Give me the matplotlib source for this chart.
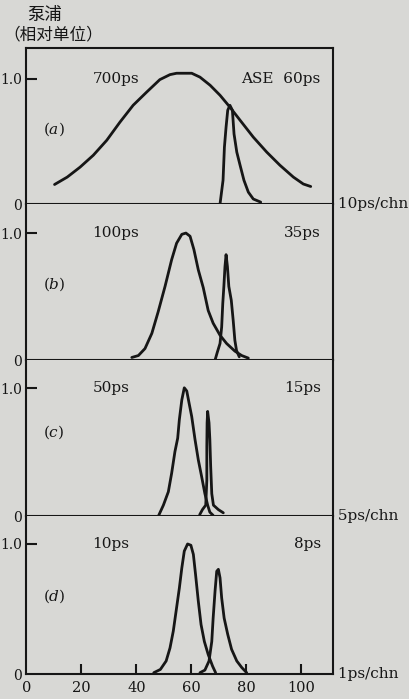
import matplotlib
matplotlib.use("Agg")
import matplotlib.pyplot as plt

plt.rcParams['mathtext.fontset'] = 'dejavuserif'

# ---------------- data (channel, relative pump intensity) ----------------
a_pump_x = [10.2, 14.8, 19.5, 24.3, 29.2, 34.0, 38.8, 43.7, 48.5, 52.2, 54.6, 60.1, 63.1, 66.8,
            70.4, 74.0, 77.7, 82.5, 87.4, 92.2, 97.1, 100.7, 103.4]
a_pump_y = [0.156, 0.215, 0.295, 0.39, 0.51, 0.655, 0.79, 0.895, 0.995, 1.035, 1.046, 1.046, 1.015, 0.95,
            0.87, 0.775, 0.67, 0.535, 0.415, 0.31, 0.215, 0.16, 0.14]
a_ase_x = [70.4, 71.5, 72.0, 72.6, 73.2, 74.0, 74.9, 75.5, 76.5, 77.7, 79.1, 80.7, 82.5, 85.2]
a_ase_y = [0.0, 0.19, 0.455, 0.615, 0.75, 0.79, 0.75, 0.56, 0.415, 0.31, 0.19, 0.095, 0.04, 0.015]

b_pump_x = [38.3, 40.7, 43.1, 45.6, 47.9, 50.4, 52.8, 54.6, 56.5, 58.0, 59.5, 60.9, 62.5, 64.3,
            66.1, 67.9, 70.4, 72.8, 75.8, 78.3, 80.7]
b_pump_y = [0.02, 0.035, 0.09, 0.21, 0.38, 0.58, 0.79, 0.92, 0.99, 1.0, 0.975, 0.87, 0.71, 0.57,
            0.39, 0.29, 0.195, 0.13, 0.07, 0.035, 0.015]
b_ase_x = [68.6, 69.4, 70.4, 71.0, 71.4, 71.8, 72.2, 72.6, 73.1, 73.6, 74.5, 75.2, 75.8, 76.4, 77.4]
b_ase_y = [0.0, 0.06, 0.13, 0.26, 0.445, 0.58, 0.735, 0.83, 0.735, 0.58, 0.47, 0.31, 0.155, 0.075, 0.025]

c_pump_x = [48.1, 49.8, 51.6, 52.8, 54.0, 55.0, 55.6, 56.5, 57.4, 58.3, 59.1, 60.1, 61.3, 62.5,
            63.7, 64.9, 65.9, 66.7, 67.9]
c_pump_y = [0.005, 0.085, 0.19, 0.335, 0.505, 0.61, 0.755, 0.91, 1.005, 0.98, 0.89, 0.78, 0.60, 0.44,
            0.31, 0.175, 0.085, 0.03, 0.005]
c_ase_x = [63.0, 64.0, 65.2, 65.6, 65.6, 65.7, 65.9, 66.4, 66.7, 67.0, 67.4, 68.0, 69.8, 71.6]
c_ase_y = [0.01, 0.05, 0.085, 0.28, 0.545, 0.73, 0.82, 0.73, 0.60, 0.39, 0.175, 0.085, 0.05, 0.025]

d_pump_x = [46.3, 48.7, 50.8, 52.2, 53.4, 54.6, 55.6, 56.5, 57.4, 58.6, 59.8, 60.7, 61.5, 62.5,
            63.5, 64.7, 66.1, 67.7, 68.8]
d_pump_y = [0.01, 0.035, 0.10, 0.20, 0.33, 0.51, 0.66, 0.815, 0.945, 1.0, 0.99, 0.92, 0.765, 0.56,
            0.38, 0.25, 0.15, 0.06, 0.01]
d_ase_x = [63.1, 64.9, 66.4, 67.4, 67.9, 68.6, 69.2, 69.8, 70.4, 71.0, 71.9, 73.2, 74.6, 76.5,
           78.3, 80.1]
d_ase_y = [0.01, 0.03, 0.10, 0.25, 0.43, 0.64, 0.79, 0.805, 0.74, 0.585, 0.43, 0.305, 0.19, 0.10,
           0.05, 0.01]

panel_tags = ['a', 'b', 'c', 'd']
pump_labels = ['700ps', '100ps', '50ps', '10ps']
ase_labels = ['ASE  60ps', '35ps', '15ps', '8ps']
scale_labels = ['10ps/chn', '', '5ps/chn', '1ps/chn']
x_ticks = [0, 20, 40, 60, 80, 100]
y_ticks = [0, 1.0]
y_ticklabels = ['0', '1.0']

pumps = [(a_pump_x, a_pump_y), (b_pump_x, b_pump_y), (c_pump_x, c_pump_y), (d_pump_x, d_pump_y)]
ases = [(a_ase_x, a_ase_y), (b_ase_x, b_ase_y), (c_ase_x, c_ase_y), (d_ase_x, d_ase_y)]

# ---------------- layout ----------------
W, H = 410, 699
bg = '#d8d8d5'
ink = '#161616'
fig = plt.figure(figsize=(W / 100, H / 100), dpi=100, facecolor=bg)

boxes = [(48, 204), (204, 360), (360, 516), (516, 674)]
ytops = [1.248, 1.229, 1.223, 1.215]
left_px, right_px = 26.5, 333

serif = 'DejaVu Serif'
for i, ((t, b), ytop) in enumerate(zip(boxes, ytops)):
    ax = fig.add_axes([left_px / W, (H - b) / H, (right_px - left_px) / W, (b - t) / H])
    ax.set_facecolor(bg)
    px, py = pumps[i]
    ex, ey = ases[i]
    ax.plot(px, py, color=ink, lw=2.0, solid_joinstyle='round', solid_capstyle='round')
    ax.plot(ex, ey, color=ink, lw=2.0, solid_joinstyle='round', solid_capstyle='round')
    ax.set_xlim(0, 111.5)
    ax.set_ylim(0, ytop)
    for s in ax.spines.values():
        s.set_linewidth(1.5)
        s.set_color(ink)
    if i > 0:
        ax.spines['top'].set_visible(False)
    ax.set_yticks(y_ticks)
    ax.set_yticklabels(y_ticklabels, fontfamily=serif, fontsize=10, color=ink)
    ax.tick_params(axis='y', direction='in', length=8, width=1.5, pad=3, colors=ink)
    ax.yaxis.get_major_ticks()[0].tick1line.set_visible(False)
    if i == 3:
        ax.set_xticks(x_ticks)
        ax.set_xticklabels([str(v) for v in x_ticks], fontfamily=serif, fontsize=10.5, color=ink)
        ax.tick_params(axis='x', direction='in', length=7, width=1.5, pad=5, colors=ink)
        ax.xaxis.get_major_ticks()[0].tick1line.set_visible(False)
    else:
        ax.set_xticks([])
    ax.text(24, 1.0, pump_labels[i], fontfamily=serif, fontsize=11, color=ink,
            ha='left', va='center')
    ax.text(107, 1.0, ase_labels[i], fontfamily=serif, fontsize=11, color=ink,
            ha='right', va='center')
    ax.text(6, 0.6 if i != 2 else 0.66, r'$(%s)$' % panel_tags[i], fontsize=11, color=ink,
            ha='left', va='center')
    if scale_labels[i]:
        ax.text(1.0, 0.0, ' ' + scale_labels[i], transform=ax.transAxes, fontfamily=serif,
                fontsize=11, color=ink, ha='left', va='center')

fig.text(27 / W, 1 - 15 / H, '泵浦', fontfamily=['Noto Sans CJK SC'], fontsize=12.5,
         color=ink, ha='left', va='center')
fig.text(3 / W, 1 - 35 / H, '（相对单位）', fontfamily=['Noto Sans CJK SC'], fontsize=12,
         color=ink, ha='left', va='center')

fig.savefig('out.png', dpi=100, facecolor=bg)
